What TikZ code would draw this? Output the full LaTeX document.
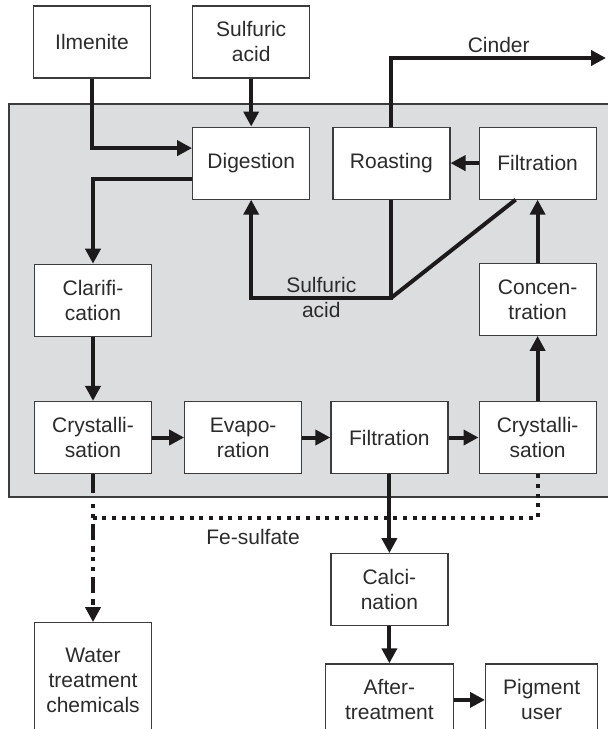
\documentclass[tikz,border=0pt]{standalone}
\usepackage{fontspec}
\setmainfont{Liberation Sans}
\usepackage{tikz}
\usetikzlibrary{positioning, arrows.meta}
\definecolor{panelgray}{HTML}{DCDDDF}
\definecolor{inkgray}{HTML}{2B2B2B}
\definecolor{edgegray}{HTML}{3C3C3C}
\definecolor{lineblack}{HTML}{1C1A1B}

\begin{document}
\begin{tikzpicture}[x=1pt, y=1pt,
    font=\fontsize{21pt}{25pt}\selectfont,
    block/.style={rectangle, draw=edgegray, fill=white, line width=1.2pt,
                  minimum width=117pt, minimum height=72pt, align=center,
                  text=inkgray},
    arr/.style={-{Triangle[length=15pt, width=15pt]}, line width=4pt, lineblack},
    flow/.style={line width=4pt, lineblack},
    dashdot/.style={dash pattern=on 4pt off 6pt on 4pt off 6pt on 16pt off 6pt on 6pt off 5pt},
    dotline/.style={line width=4pt, lineblack, dash pattern=on 4pt off 5.7pt},
    lbl/.style={text=inkgray, align=center}
]
    \clip (0,0) rectangle (608,-729);

    % Process area
    \fill[panelgray, draw=edgegray, line width=1.2pt] (9,-104) rectangle (615,-497);

    % Bottom row
    \node[block] (cry1) at (93,-437.5) {Crystalli-\\sation};
    \node[block, right=32pt of cry1] (evap) {Evapo-\\ration};
    \node[block, right=28pt of evap] (filt2) {Filtration};
    \node[block, right=30pt of filt2] (cry2) {Crystalli-\\sation};

    % Right column and top row
    \node[block, above=65pt of cry2] (conc) {Concen-\\tration};
    \node[block, above=63pt of conc] (filt1) {Filtration};
    \node[block, left=28pt of filt1] (roast) {Roasting};
    \node[block, left=22pt of roast] (dig) {Digestion};
    \node[block, above=64pt of cry1] (clar) {Clarifi-\\cation};

    % Raw materials
    \node[block, above=48pt of dig] (sa) {Sulfuric\\acid};
    \node[block, left=41pt of sa] (ilm) {Ilmenite};

    % Products
    \node[block, below=79pt of filt2] (calc) {Calci-\\nation};
    \node[block, below=37pt of calc, minimum width=128pt] (after) {After-\\treatment};
    \node[block, right=31pt of after, minimum width=112pt] (pig) {Pigment\\user};
    \node[block, below=148pt of cry1, minimum height=116pt] (water) {Water\\treatment\\chemicals};

    % Helper points
    \coordinate (cinderout) at (606,-58);
    \coordinate (acidjoin) at ([yshift=-98pt]roast.south);
    \coordinate (stubend) at (0,-493);
    \coordinate (wstart) at (0,-504);
    \coordinate (feY) at (0,-518);

    % Feed
    \draw[arr] (ilm.south) |- ([yshift=15pt]dig.west);
    \draw[arr] (sa) -- (dig);
    \draw[arr] ([yshift=-16pt]dig.west) -| (clar.north);
    \draw[arr] (clar) -- (cry1);

    % Main line
    \draw[arr] (cry1) -- (evap);
    \draw[arr] (evap) -- (filt2);
    \draw[arr] (filt2) -- (cry2);
    \draw[arr] (cry2) -- (conc);
    \draw[arr] (conc) -- (filt1);
    \draw[arr] (filt1) -- (roast);

    % Cinder and acid recycle
    \draw[arr] (roast.north) |- node[pos=0.75, above, lbl] {Cinder} (cinderout);
    \draw[arr] (roast.south) -- (acidjoin) -| node[pos=0.25, lbl] {Sulfuric\\acid} (dig.south);
    \draw[flow] ([xshift=-22pt]filt1.south) -- (acidjoin);

    % Pigment
    \draw[arr] (filt2) -- (calc);
    \draw[arr] (calc) -- (after);
    \draw[arr] (after) -- (pig);

    % Fe-sulfate
    \draw[flow] (cry1.south) -- (cry1.south |- stubend);
    \draw[dotline] (cry2.south) |- node[pos=0.82, below=6pt, lbl] {Fe-sulfate} (water.north |- feY);
    \draw[arr, dashdot] (water.north |- wstart) -- (water.north);
\end{tikzpicture}
\end{document}
